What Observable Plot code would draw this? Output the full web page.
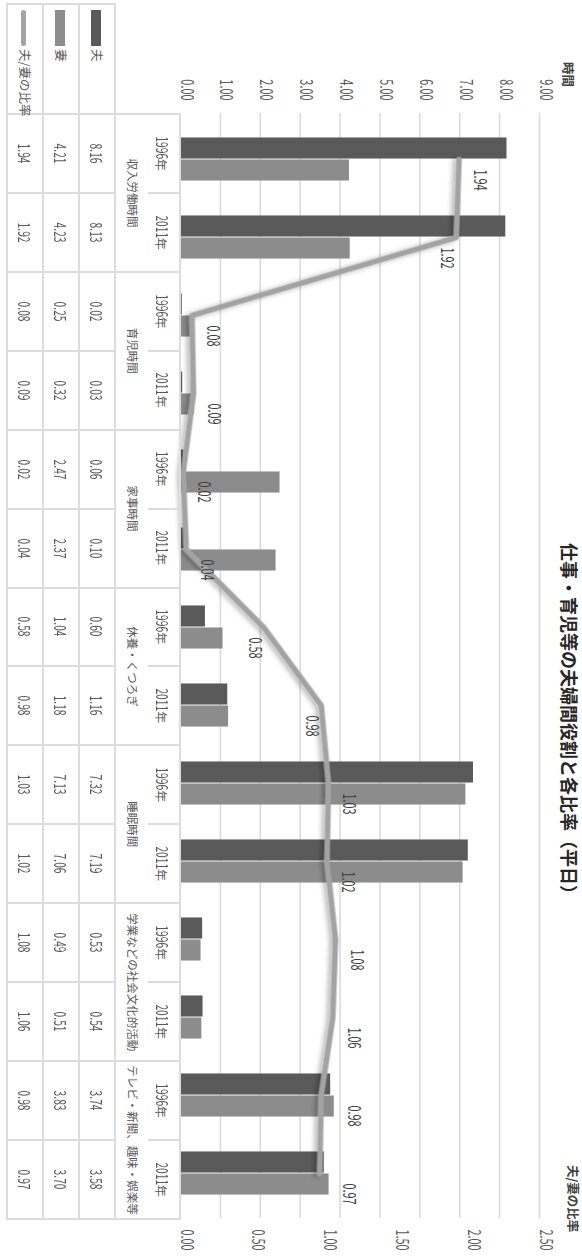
<!DOCTYPE html>
<html lang="ja">
<head>
<meta charset="utf-8">
<script src="https://cdn.jsdelivr.net/npm/d3@7"></script>
<script src="https://cdn.jsdelivr.net/npm/@observablehq/plot@0.6"></script>
<style>
  html, body { margin: 0; padding: 0; background: #fff; overflow: hidden; }
  /* The chart is laid out landscape and turned a quarter turn clockwise */
  #page {
    position: absolute; left: 0; top: 0; width: 1257px; height: 582px;
    transform-origin: 0 0; transform: translate(582px, 0) rotate(90deg);
    background: #fff; font-family: "Noto Sans CJK JP", "Noto Sans", sans-serif; color: #595959;
  }
  #page svg { position: absolute; left: 0; top: 0; overflow: visible; }
  .title { position: absolute; left: 543px; top: 3px; font-size: 18px; line-height: 19px; font-weight: 700; color: #262626; white-space: nowrap; }
  .ytitle { position: absolute; font-size: 12.5px; line-height: 14px; font-weight: 700; color: #404040; white-space: nowrap; }
  table.dt { position: absolute; left: 3px; top: 401px; border-collapse: collapse; table-layout: fixed; }
  table.dt td { padding: 0; text-align: center; vertical-align: middle; white-space: nowrap; overflow: visible;
    border: 2px solid #dcdcdc; font-size: 12px; line-height: 1; color: #595959; }
  table.dt tr.yr td { height: 31px; border-bottom: none; }
  table.dt tr.ct td { height: 32px; border-top: none; font-size: 11.5px; }
  table.dt tr.val td { height: 34px; }
  table.dt td.blank { border: none; }
  table.dt td.leg { text-align: left; padding-left: 5px; font-size: 12.5px; }
  .key { display: inline-block; width: 36px; vertical-align: middle; margin-right: 3px; }
  .n { display: inline-block; font-size: 16px; }
</style>
</head>
<body>
<div id="page"></div>
<script>
// ---- data -------------------------------------------------------------
const categories = ["収入労働時間", "育児時間", "家事時間", "休養・くつろぎ", "睡眠時間", "学業などの社会文化的活動", "テレビ・新聞、趣味・娯楽等"];
const years = ["1996年", "2011年"];
const seriesNames = ["夫", "妻", "夫/妻の比率"];
const husband = [8.16, 8.13, 0.02, 0.03, 0.06, 0.10, 0.60, 1.16, 7.32, 7.19, 0.53, 0.54, 3.74, 3.58];
const wife    = [4.21, 4.23, 0.25, 0.32, 2.47, 2.37, 1.04, 1.18, 7.13, 7.06, 0.49, 0.51, 3.83, 3.70];
const ratio   = [1.94, 1.92, 0.08, 0.09, 0.02, 0.04, 0.58, 0.98, 1.03, 1.02, 1.08, 1.06, 0.98, 0.97];
const hourTicks  = [0, 1, 2, 3, 4, 5, 6, 7, 8, 9];
const ratioTicks = [0, 0.5, 1, 1.5, 2, 2.5];
const titleText = "仕事・育児等の夫婦間役割と各比率（平日）";
const hoursTitle = "時間";
const ratioTitle = "夫/妻の比率";

// ---- layout & style ---------------------------------------------------
const W = 1257, H = 402;
const M = {top: 42, right: 39, bottom: 1, left: 113};
const colors = ["#5a5a5a", "#8c8c8c", "#a3a3a3"];
const SQUEEZE = 0.64;                       // narrow numeral face
const hourMax = hourTicks[hourTicks.length - 1];
const ratioMax = ratioTicks[ratioTicks.length - 1];
const K = hourMax / ratioMax;               // ratio -> hours axis
const fmt = d3.format(".2f");

const rows = categories.flatMap((c, i) => years.map((y, j) => {
  const k = i * years.length + j;
  return {key: c + "|" + y, cat: c, year: y, husband: husband[k], wife: wife[k], ratio: ratio[k], k};
}));
// label sits under the line where the line climbs into the point or drops steeply after it;
// a label above the line clears a bar that ends just past the point
rows.forEach((d, i) => {
  const prev = i > 0 ? ratio[i] - ratio[i - 1] : 0;
  const next = i < ratio.length - 1 ? ratio[i + 1] - ratio[i] : 0;
  d.below = next < -1 || prev > 0.3;
  const p = d.ratio * K, top = Math.max(d.husband, d.wife);
  d.labelAt = !d.below && top > p && top - p < 1 ? top : p;
});
const keys = rows.map(d => d.key);
const bw = (W - M.left - M.right) / keys.length;
const half = bw / 2, barW = 22;

const page = document.getElementById("page");

const chart = Plot.plot({
  width: W, height: H,
  marginTop: M.top, marginRight: M.right, marginBottom: M.bottom, marginLeft: M.left,
  style: {fontFamily: '"Noto Sans CJK JP", sans-serif', fontSize: "12px", background: "transparent", color: "#595959"},
  x: {type: "band", domain: keys, padding: 0, axis: null},
  y: {domain: [0, hourMax], axis: null},
  marks: [
    Plot.gridY(hourTicks.slice(1), {stroke: "#d9d9d9", strokeOpacity: 1, strokeWidth: 1.5}),
    Plot.axisY(hourTicks, {anchor: "left", tickSize: 0, tickPadding: 13, tickFormat: fmt, label: null, fill: "#595959"}),
    Plot.axisY(ratioTicks.map(r => r * K), {anchor: "right", tickSize: 0, tickPadding: 11, tickFormat: d => fmt(d / K), label: null, fill: "#595959"}),
    Plot.barY(rows, {x: "key", y: "husband", fill: colors[0], insetLeft: half - barW, insetRight: half}),
    Plot.barY(rows, {x: "key", y: "wife", fill: colors[1], insetLeft: half, insetRight: half - barW}),
    Plot.line(rows, {x: "key", y: d => d.ratio * K, stroke: colors[2], strokeWidth: 5.5, strokeLinejoin: "round", className: "ratio-line"}),
    Plot.text(rows.filter(d => !d.below), {x: "key", y: "labelAt", text: d => fmt(d.ratio), textAnchor: "start", dx: 10, dy: -15, fill: "#404040"}),
    Plot.text(rows.filter(d => d.below), {x: "key", y: "labelAt", text: d => fmt(d.ratio), textAnchor: "start", dx: 10, dy: 15, fill: "#404040"})
  ]
});
page.appendChild(chart);

// soft shadow under the ratio line
const svg = d3.select(chart);
const defs = svg.insert("defs", ":first-child");
const f = defs.append("filter").attr("id", "lineShadow").attr("x", "-10%").attr("y", "-10%").attr("width", "120%").attr("height", "130%");
f.append("feDropShadow").attr("dx", 1).attr("dy", 3).attr("stdDeviation", 2.5).attr("flood-color", "#000").attr("flood-opacity", 0.3);
svg.selectAll(".ratio-line").attr("filter", "url(#lineShadow)");

// numerals use a tall, narrow face: scale each numeric label about its anchor
chart.querySelectorAll("text").forEach(t => {
  if (!/^[\d.]+$/.test(t.textContent.trim())) return;
  t.style.fontSize = "17px";
  const tf = t.getAttribute("transform") || "";
  const x = +t.getAttribute("x") || 0, y = +t.getAttribute("y") || 0;
  t.setAttribute("x", 0); t.setAttribute("y", 0);
  t.setAttribute("transform", `${tf} translate(${x},${y}) scale(${SQUEEZE},1)`);
});

// titles
const addDiv = (cls, text, css) => {
  const el = document.createElement("div");
  el.className = cls; el.textContent = text;
  Object.assign(el.style, css || {});
  page.appendChild(el);
  return el;
};
addDiv("title", titleText);
addDiv("ytitle", hoursTitle, {left: "62px", top: "7px"});
addDiv("ytitle", ratioTitle, {left: "1165px", top: "2px"});

// data table under the plot
const numSpan = s => s.replace(/[\d.]+/g, m => `<span class="n">${m}</span>`);
const tbl = d3.select(page).append("table").attr("class", "dt");
const cg = tbl.append("colgroup");
cg.append("col").style("width", (M.left - 3) + "px");
keys.forEach(() => cg.append("col").style("width", bw + "px"));
tbl.style("width", (M.left - 3 + bw * keys.length) + "px");

const tr1 = tbl.append("tr").attr("class", "yr");
tr1.append("td").attr("class", "blank");
rows.forEach(d => tr1.append("td").html(numSpan(d.year)));

const tr2 = tbl.append("tr").attr("class", "ct");
tr2.append("td").attr("class", "blank");
categories.forEach(c => tr2.append("td").attr("colspan", years.length).text(c));

const series = [husband, wife, ratio];
series.forEach((vals, s) => {
  const tr = tbl.append("tr").attr("class", "val");
  const key = s < 2
    ? `<span class="key" style="height:10px;background:${colors[s]}"></span>`
    : `<span class="key" style="height:5px;border-radius:3px;background:${colors[s]}"></span>`;
  tr.append("td").attr("class", "leg").html(key + seriesNames[s]);
  vals.forEach(v => tr.append("td").html(numSpan(fmt(v))));
});

page.querySelectorAll(".n").forEach(sp => {
  const w = sp.offsetWidth;
  const m = -(w * (1 - SQUEEZE) / 2) + "px";
  sp.style.marginLeft = m; sp.style.marginRight = m;
  sp.style.transform = `scaleX(${SQUEEZE})`;
});
</script>
</body>
</html>
